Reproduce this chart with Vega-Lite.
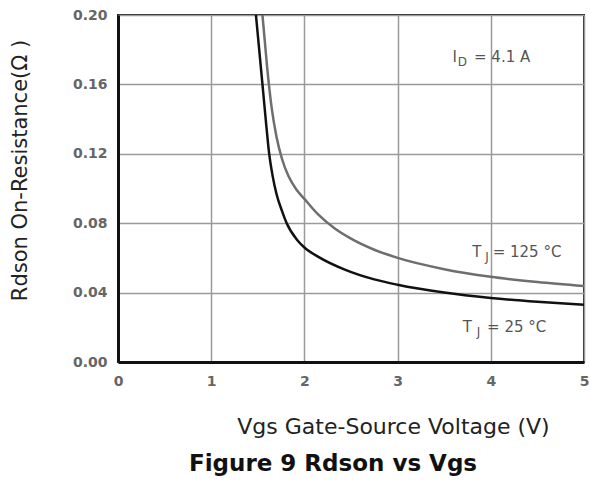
{
  "$schema": "https://vega.github.io/schema/vega-lite/v6.json",
  "width": 466,
  "height": 347,
  "autosize": {"type": "none"},
  "padding": {"left": 118, "top": 15, "right": 6, "bottom": 121},
  "background": "white",
  "title": {
    "text": "Figure 9 Rdson vs Vgs",
    "orient": "bottom",
    "anchor": "middle",
    "frame": "group",
    "font": "DejaVu Sans",
    "fontSize": 23,
    "fontWeight": "bold",
    "color": "#111",
    "offset": 16,
    "dx": -18
  },
  "config": {
    "view": {"stroke": "#222", "strokeWidth": 2},
    "axis": {"grid": true, "gridColor": "#9a9a9a", "gridWidth": 1.5, "ticks": false, "domainColor": "#111", "domainWidth": 3, "labelFont": "DejaVu Sans", "labelColor": "#666", "labelFontWeight": "bold", "labelFlush": false, "titleFont": "DejaVu Sans", "titleFontWeight": "normal", "titleColor": "#222"}
  },
  "datasets": {
    "curves": [
      {"V": 1.48, "R": 0.200, "series": "25"},
      {"V": 1.55, "R": 0.160, "series": "25"},
      {"V": 1.59, "R": 0.137, "series": "25"},
      {"V": 1.62, "R": 0.121, "series": "25"},
      {"V": 1.66, "R": 0.107, "series": "25"},
      {"V": 1.70, "R": 0.097, "series": "25"},
      {"V": 1.76, "R": 0.087, "series": "25"},
      {"V": 1.81, "R": 0.080, "series": "25"},
      {"V": 1.92, "R": 0.0705, "series": "25"},
      {"V": 2.00, "R": 0.066, "series": "25"},
      {"V": 2.15, "R": 0.0606, "series": "25"},
      {"V": 2.44, "R": 0.0531, "series": "25"},
      {"V": 2.75, "R": 0.0476, "series": "25"},
      {"V": 3.00, "R": 0.0445, "series": "25"},
      {"V": 3.50, "R": 0.040, "series": "25"},
      {"V": 4.00, "R": 0.0369, "series": "25"},
      {"V": 4.50, "R": 0.0347, "series": "25"},
      {"V": 5.00, "R": 0.033, "series": "25"},
      {"V": 1.55, "R": 0.200, "series": "125"},
      {"V": 1.60, "R": 0.170, "series": "125"},
      {"V": 1.65, "R": 0.146, "series": "125"},
      {"V": 1.70, "R": 0.130, "series": "125"},
      {"V": 1.76, "R": 0.117, "series": "125"},
      {"V": 1.83, "R": 0.107, "series": "125"},
      {"V": 1.92, "R": 0.099, "series": "125"},
      {"V": 2.00, "R": 0.094, "series": "125"},
      {"V": 2.15, "R": 0.0849, "series": "125"},
      {"V": 2.33, "R": 0.0768, "series": "125"},
      {"V": 2.50, "R": 0.0711, "series": "125"},
      {"V": 2.75, "R": 0.0647, "series": "125"},
      {"V": 3.00, "R": 0.060, "series": "125"},
      {"V": 3.50, "R": 0.0535, "series": "125"},
      {"V": 4.00, "R": 0.0491, "series": "125"},
      {"V": 4.50, "R": 0.0461, "series": "125"},
      {"V": 5.00, "R": 0.0438, "series": "125"}
    ],
    "labels": [
      {"V": 3.59, "R": 0.1729, "text": "I"},
      {"V": 3.82, "R": 0.1729, "text": "= 4.1 A"},
      {"V": 3.80, "R": 0.0605, "text": "T"},
      {"V": 4.02, "R": 0.0605, "text": "= 125 °C"},
      {"V": 3.70, "R": 0.0173, "text": "T"},
      {"V": 3.96, "R": 0.0173, "text": "= 25 °C"}
    ],
    "subs": [
      {"V": 3.645, "R": 0.1706, "text": "D"},
      {"V": 3.94, "R": 0.0582, "text": "J"},
      {"V": 3.85, "R": 0.015, "text": "J"}
    ]
  },
  "layer": [
    {
      "data": {"name": "curves"},
      "mark": {"type": "line", "strokeWidth": 2.5, "interpolate": "monotone", "clip": true},
      "encoding": {
        "x": {"field": "V", "type": "quantitative", "scale": {"domain": [0, 5], "nice": false},
          "axis": {"values": [0, 1, 2, 3, 4, 5], "format": "d", "labelFontSize": 14, "labelPadding": 12, "title": "Vgs Gate-Source Voltage (V)", "titleFontSize": 22, "titleX": 275, "titleY": 71, "titleAlign": "center", "titleBaseline": "alphabetic"}},
        "y": {"field": "R", "type": "quantitative", "scale": {"domain": [0, 0.2], "nice": false},
          "axis": {"values": [0, 0.04, 0.08, 0.12, 0.16, 0.2], "format": ".2f", "labelFontSize": 14, "labelPadding": 11, "title": "Rdson On-Resistance(Ω )", "titleFontSize": 21, "titleX": -92, "titleY": 155, "titleAngle": 270, "titleAlign": "center", "titleBaseline": "alphabetic"}},
        "color": {"field": "series", "type": "nominal", "scale": {"domain": ["25", "125"], "range": ["#111111", "#6e6e6e"]}, "legend": null},
        "detail": {"field": "series"}
      }
    },
    {
      "data": {"name": "labels"},
      "mark": {"type": "text", "align": "left", "baseline": "alphabetic", "font": "DejaVu Sans", "fontSize": 15, "color": "#555"},
      "encoding": {
        "x": {"field": "V", "type": "quantitative"},
        "y": {"field": "R", "type": "quantitative"},
        "text": {"field": "text"}
      }
    },
    {
      "data": {"name": "subs"},
      "mark": {"type": "text", "align": "left", "baseline": "alphabetic", "font": "DejaVu Sans", "fontSize": 12, "color": "#555"},
      "encoding": {
        "x": {"field": "V", "type": "quantitative"},
        "y": {"field": "R", "type": "quantitative"},
        "text": {"field": "text"}
      }
    }
  ]
}
